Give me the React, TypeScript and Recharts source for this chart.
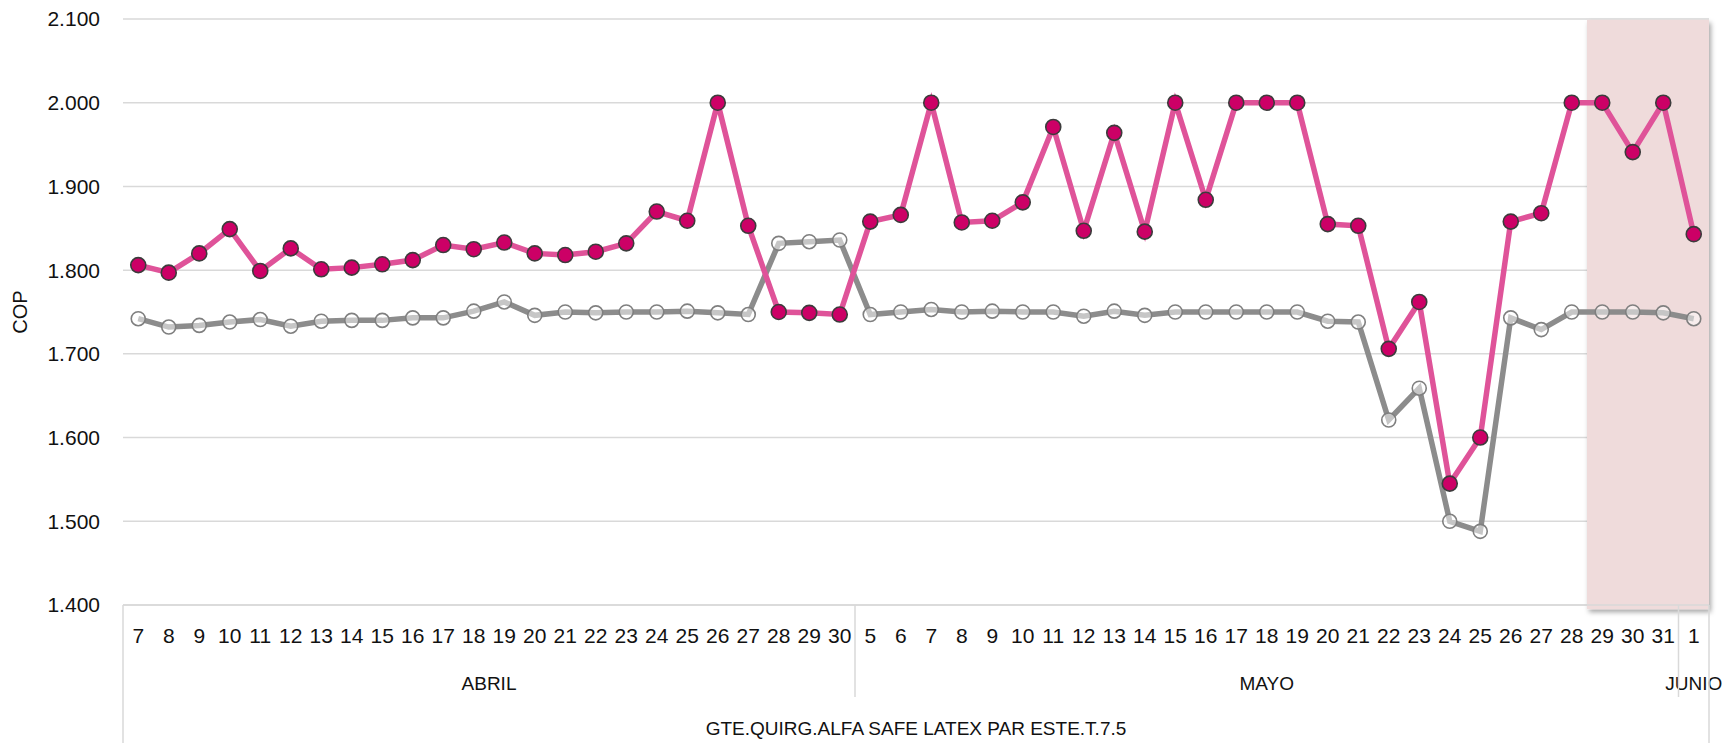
import React from "react";
import {
    LineChart,
    Line,
    XAxis,
    YAxis,
    CartesianGrid,
    ReferenceArea,
} from "recharts";

// day labels per month, in chart order
const abrilDays = ["7", "8", "9", "10", "11", "12", "13", "14", "15", "16", "17", "18", "19", "20", "21", "22", "23", "24", "25", "26", "27", "28", "29", "30"];
const mayoDays = ["5", "6", "7", "8", "9", "10", "11", "12", "13", "14", "15", "16", "17", "18", "19", "20", "21", "22", "23", "24", "25", "26", "27", "28", "29", "30", "31"];
const junioDays = ["1"];

const months = [
    { name: "ABRIL", prefix: "A", days: abrilDays },
    { name: "MAYO", prefix: "M", days: mayoDays },
    { name: "JUNIO", prefix: "J", days: junioDays },
];

const productLabel = "GTE.QUIRG.ALFA SAFE LATEX PAR ESTE.T.7.5";

// pink series (precio) in COP
const pinkValues = [
    1806, 1797, 1820, 1849, 1799, 1826, 1801, 1803, 1807, 1812, 1830, 1825, 1833, 1820, 1818, 1822, 1832, 1870, 1859, 2000, 1853, 1750, 1749, 1747,
    1858, 1866, 2000, 1857, 1859, 1881, 1971, 1847, 1964, 1846, 2000, 1884, 2000, 2000, 2000, 1855, 1853, 1706, 1762, 1545, 1600, 1858, 1868, 2000, 2000, 1941, 2000,
    1843,
];

// gray series in COP
const grayValues = [
    1742, 1732, 1734, 1738, 1741, 1733, 1739, 1740, 1740, 1743, 1743, 1751, 1762, 1746, 1750, 1749, 1750, 1750, 1751, 1749, 1747, 1832, 1834, 1836,
    1747, 1750, 1753, 1750, 1751, 1750, 1750, 1745, 1751, 1746, 1750, 1750, 1750, 1750, 1750, 1739, 1738, 1621, 1659, 1500, 1488, 1743, 1729, 1750, 1750, 1750, 1749,
    1742,
];

const yTicks = [1400, 1500, 1600, 1700, 1800, 1900, 2000, 2100];

const rows: { key: string; day: string; month: string; pink: number; gray: number }[] = [];
months.forEach((m) => {
    m.days.forEach((d) => {
        const i = rows.length;
        rows.push({ key: m.prefix + d, day: d, month: m.name, pink: pinkValues[i], gray: grayValues[i] });
    });
});

const W = 1725;
const H = 743;
const LEFT = 123;
const RIGHT = 16;
const TOP = 19;
const XAXIS_H = 138;
const BAND = (W - LEFT - RIGHT) / rows.length;
const FONT = "'Liberation Sans', Arial, sans-serif";

const fmt = (v: number) => {
    const s = String(v);
    return s.length > 3 ? s.slice(0, s.length - 3) + "." + s.slice(-3) : s;
};

function DayTick(props: any) {
    const { x, y, payload } = props;
    const i = payload.index;
    const row = rows[i];
    const items: React.ReactNode[] = [];
    items.push(
        <text key="d" x={x} y={y + 38} textAnchor="middle" fontSize={21} fontFamily={FONT} fill="#111">
            {row.day}
        </text>
    );
    const first = i === 0 || rows[i - 1].month !== row.month;
    if (first) {
        let last = i;
        while (last + 1 < rows.length && rows[last + 1].month === row.month) last++;
        const cx = x + ((last - i) / 2) * BAND;
        items.push(
            <text key="m" x={cx} y={y + 85} textAnchor="middle" fontSize={19} fontFamily={FONT} fill="#111">
                {row.month}
            </text>
        );
        if (i > 0) {
            items.push(<line key="s" x1={x - BAND / 2} x2={x - BAND / 2} y1={y} y2={y + 92} stroke="#d9d9d9" strokeWidth={1.5} />);
        }
    }
    if (i === 0) {
        items.push(<line key="lb" x1={x - BAND / 2} x2={x - BAND / 2} y1={y} y2={y + XAXIS_H} stroke="#d9d9d9" strokeWidth={1.5} />);
        items.push(
            <text key="p" x={x + ((rows.length - 1) / 2) * BAND} y={y + 130} textAnchor="middle" fontSize={19} fontFamily={FONT} fill="#111">
                {productLabel}
            </text>
        );
    }
    if (i === rows.length - 1) {
        items.push(<line key="rb" x1={x + BAND / 2} x2={x + BAND / 2} y1={y} y2={y + XAXIS_H} stroke="#d9d9d9" strokeWidth={1.5} />);
    }
    return <g>{items}</g>;
}

// the x scale is a point scale, so widen the area by half a band on each side
function ShadeShape(props: any) {
    const { x, y, width, height } = props;
    return (
        <rect x={x - BAND / 2} y={y} width={width + BAND} height={height} fill="#efdbdb" filter="url(#shadeShadow)" />
    );
}

function CopLabel() {
    return (
        <text x={20} y={312} transform="rotate(-90, 20, 312)" textAnchor="middle" dominantBaseline="central" fontSize={20} fontFamily={FONT} fill="#111">
            COP
        </text>
    );
}

export default function App() {
    return (
        <div style={{ position: "absolute", left: 0, top: 0, width: W, height: H, background: "#fff" }}>
            <LineChart width={W} height={H} data={rows} margin={{ top: TOP, right: RIGHT, left: 0, bottom: 0 }}>
                <defs>
                    <filter id="shadeShadow" x="-10%" y="-10%" width="130%" height="130%">
                        <feDropShadow dx="2" dy="3" stdDeviation="2.5" floodColor="#000" floodOpacity="0.35" />
                    </filter>
                </defs>
                <ReferenceArea
                    x1="M29"
                    x2="J1"
                    y1={2099}
                    y2={1395}
                    ifOverflow="visible"
                    shape={<ShadeShape />}
                />
                <CartesianGrid vertical={false} stroke="#d9d9d9" strokeWidth={1.5} />
                <XAxis
                    dataKey="key"
                    interval={0}
                    height={XAXIS_H}
                    padding={{ left: BAND / 2, right: BAND / 2 }}
                    tickLine={false}
                    tickSize={0}
                    tickMargin={0}
                    axisLine={{ stroke: "#d9d9d9", strokeWidth: 1.5 }}
                    tick={<DayTick />}
                />
                <YAxis
                    width={LEFT}
                    domain={[1400, 2100]}
                    ticks={yTicks}
                    interval={0}
                    axisLine={false}
                    tickLine={false}
                    tickSize={0}
                    tickMargin={23}
                    tickFormatter={fmt}
                    tick={{ fill: "#111", fontSize: 21, fontFamily: FONT }}
                    label={{ content: <CopLabel /> }}
                />
                <Line
                    type="linear"
                    dataKey="gray"
                    stroke="#8c8c8c"
                    strokeWidth={5.5}
                    dot={{ r: 7, fill: "#ffffff", fillOpacity: 0.5, stroke: "#7f7f7f", strokeWidth: 1.6 }}
                    activeDot={false}
                    isAnimationActive={false}
                />
                <Line
                    type="linear"
                    dataKey="pink"
                    stroke="#df5399"
                    strokeWidth={5.5}
                    dot={{ r: 7.5, fill: "#cc0066", stroke: "#3c3c3c", strokeWidth: 1.6 }}
                    activeDot={false}
                    isAnimationActive={false}
                />
            </LineChart>
        </div>
    );
}
